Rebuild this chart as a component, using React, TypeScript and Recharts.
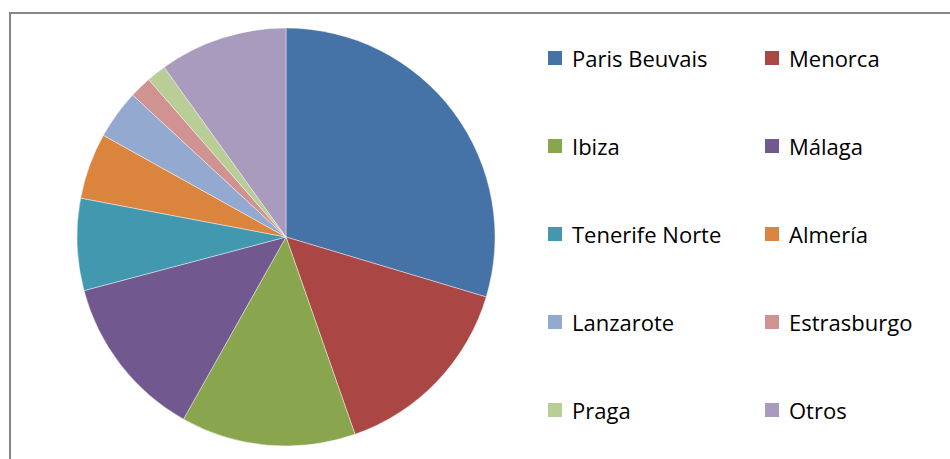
import React from "react";
import { PieChart, Pie, Cell, Legend } from "recharts";

const categories = [
  "Paris Beuvais",
  "Menorca",
  "Ibiza",
  "Málaga",
  "Tenerife Norte",
  "Almería",
  "Lanzarote",
  "Estrasburgo",
  "Praga",
  "Otros",
];

const values = [29.6, 15.0, 13.5, 12.7, 7.1, 5.1, 3.8, 1.7, 1.5, 9.9];

const COLORS = [
  "#4572A7",
  "#AA4643",
  "#89A54E",
  "#71588F",
  "#4198AF",
  "#DB843D",
  "#93A9CF",
  "#D19392",
  "#B9CD96",
  "#A99BBD",
];

const data = categories.map((name, i) => ({ name, value: values[i], fill: COLORS[i] }));

const FONT = "'Open Sans', 'Noto Sans', sans-serif";

function LegendContent(props: any) {
  const payload: any[] = [...(props.payload || [])].sort(
    (a: any, b: any) => categories.indexOf(a.value) - categories.indexOf(b.value)
  );
  return (
    <div
      style={{
        display: "grid",
        gridTemplateColumns: "217px 200px",
        gridAutoRows: "88px",
        fontFamily: FONT,
        fontSize: 22,
        color: "#000",
      }}
    >
      {payload.map((entry: any, i: number) => {
        const idx = categories.indexOf(entry.value);
        return (
          <div key={i} style={{ display: "flex", alignItems: "center" }}>
            <span
              style={{
                display: "inline-block",
                width: 14,
                height: 14,
                background: idx >= 0 ? COLORS[idx] : entry.color,
                marginRight: 10,
                flex: "none",
              }}
            />
            <span style={{ whiteSpace: "nowrap", lineHeight: "normal" }}>{entry.value}</span>
          </div>
        );
      })}
    </div>
  );
}

export default function App() {
  return (
    <div
      style={{
        position: "fixed",
        left: 0,
        top: 0,
        width: 950,
        height: 459,
        overflow: "hidden",
        background: "#fff",
      }}
    >
      <div
        style={{
          position: "absolute",
          left: 9,
          top: 12,
          width: 980,
          height: 480,
          border: "2px solid #878787",
          boxSizing: "border-box",
        }}
      />
      <div style={{ position: "absolute", left: 0, top: 0 }}>
        <PieChart width={950} height={459} margin={{ top: 0, right: 0, bottom: 0, left: 0 }}>
          <Pie
            data={data}
            dataKey="value"
            nameKey="name"
            cx={286}
            cy={237}
            outerRadius={209}
            startAngle={90}
            endAngle={-270}
            stroke="rgba(255,255,255,0.7)"
            strokeWidth={0.6}
            isAnimationActive={false}
            label={false}
            labelLine={false}
          >
            {data.map((d, i) => (
              <Cell key={i} fill={COLORS[i]} />
            ))}
          </Pie>
          <Legend
            layout="vertical"
            align="right"
            verticalAlign="middle"
            content={<LegendContent />}
            wrapperStyle={{ left: 548, top: 14, right: "auto", bottom: "auto", width: 420 }}
          />
        </PieChart>
      </div>
    </div>
  );
}
